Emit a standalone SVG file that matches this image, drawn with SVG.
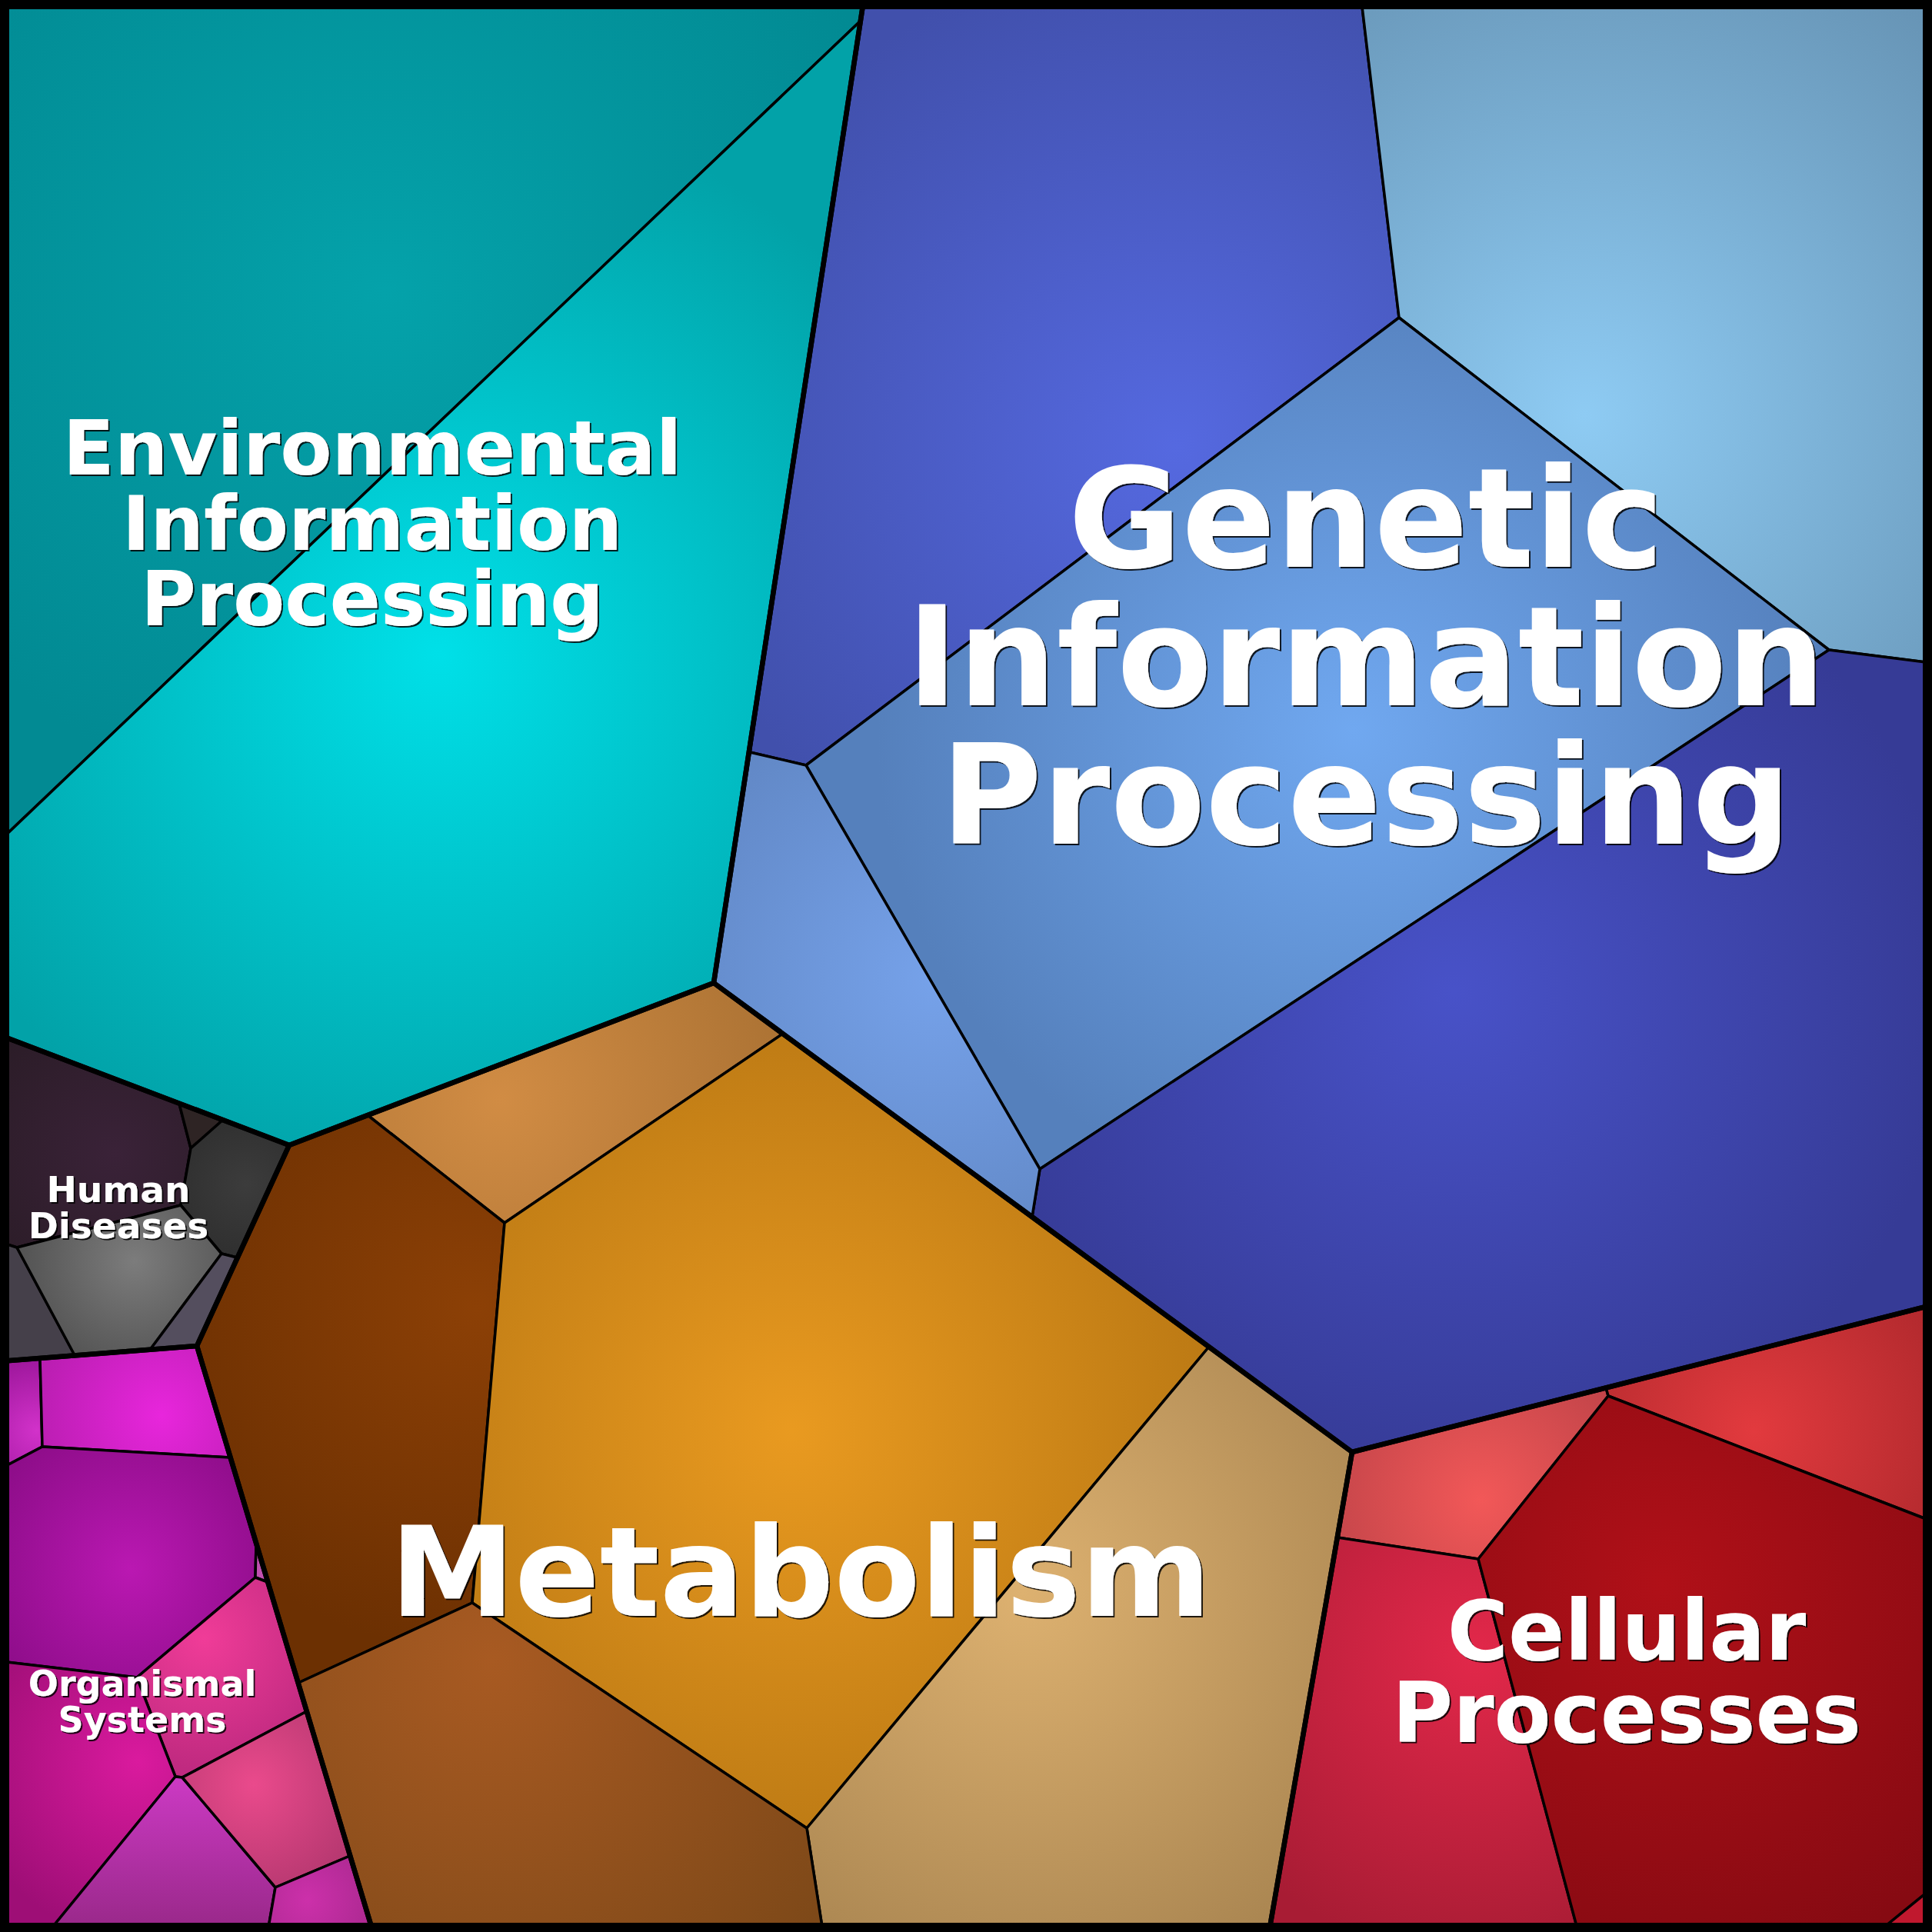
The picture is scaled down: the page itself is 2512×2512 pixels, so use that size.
<svg xmlns="http://www.w3.org/2000/svg" width="2512" height="2512" viewBox="0 0 2512 2512">
<style>
.cell{stroke:#000;stroke-width:3.5;stroke-linejoin:round}
.top{fill:none;stroke:#000;stroke-width:6.5;stroke-linejoin:round}
.lbl{font-family:"DejaVu Sans","Liberation Sans",sans-serif;font-weight:bold;fill:#fff;text-anchor:middle;filter:url(#sh)}
</style>
<defs>
<filter id="sh" x="-5%" y="-10%" width="110%" height="130%">
<feDropShadow dx="2" dy="2" stdDeviation="0.7" flood-color="#000" flood-opacity="0.85"/>
</filter>
<radialGradient id="gE1" gradientUnits="userSpaceOnUse" cx="500" cy="380" r="700"><stop offset="0" stop-color="#04a2aa"/><stop offset="1" stop-color="#028a93"/></radialGradient>
<radialGradient id="gE2" gradientUnits="userSpaceOnUse" cx="570" cy="850" r="720"><stop offset="0" stop-color="#00e0e8"/><stop offset="1" stop-color="#02a2a8"/></radialGradient>
<radialGradient id="gG1" gradientUnits="userSpaceOnUse" cx="1530" cy="580" r="650"><stop offset="0" stop-color="#5569e0"/><stop offset="1" stop-color="#4150ac"/></radialGradient>
<radialGradient id="gG2" gradientUnits="userSpaceOnUse" cx="2060" cy="540" r="700"><stop offset="0" stop-color="#8ecbf3"/><stop offset="1" stop-color="#6693b4"/></radialGradient>
<radialGradient id="gG3" gradientUnits="userSpaceOnUse" cx="1760" cy="950" r="620"><stop offset="0" stop-color="#70a8f0"/><stop offset="1" stop-color="#5580bc"/></radialGradient>
<radialGradient id="gG4" gradientUnits="userSpaceOnUse" cx="1890" cy="1290" r="650"><stop offset="0" stop-color="#4852c8"/><stop offset="1" stop-color="#363b96"/></radialGradient>
<radialGradient id="gG5" gradientUnits="userSpaceOnUse" cx="1220" cy="1270" r="420"><stop offset="0" stop-color="#76a2ea"/><stop offset="1" stop-color="#5f85c2"/></radialGradient>
<radialGradient id="gM1" gradientUnits="userSpaceOnUse" cx="650" cy="1430" r="420"><stop offset="0" stop-color="#d18c44"/><stop offset="1" stop-color="#a87032"/></radialGradient>
<radialGradient id="gM2" gradientUnits="userSpaceOnUse" cx="620" cy="1700" r="450"><stop offset="0" stop-color="#8c4006"/><stop offset="1" stop-color="#6c3002"/></radialGradient>
<radialGradient id="gM3" gradientUnits="userSpaceOnUse" cx="1030" cy="1860" r="650"><stop offset="0" stop-color="#e99a20"/><stop offset="1" stop-color="#b47412"/></radialGradient>
<radialGradient id="gM4" gradientUnits="userSpaceOnUse" cx="1330" cy="2070" r="560"><stop offset="0" stop-color="#ddb170"/><stop offset="1" stop-color="#a88450"/></radialGradient>
<radialGradient id="gM5" gradientUnits="userSpaceOnUse" cx="640" cy="2160" r="560"><stop offset="0" stop-color="#a85a22"/><stop offset="1" stop-color="#7c4818"/></radialGradient>
<radialGradient id="gC1" gradientUnits="userSpaceOnUse" cx="1925" cy="1950" r="260"><stop offset="0" stop-color="#f25858"/><stop offset="1" stop-color="#b84046"/></radialGradient>
<radialGradient id="gC2" gradientUnits="userSpaceOnUse" cx="2280" cy="1860" r="330"><stop offset="0" stop-color="#e23a3e"/><stop offset="1" stop-color="#a8262a"/></radialGradient>
<radialGradient id="gC3" gradientUnits="userSpaceOnUse" cx="1920" cy="2150" r="400"><stop offset="0" stop-color="#e2284a"/><stop offset="1" stop-color="#a81c34"/></radialGradient>
<radialGradient id="gC4" gradientUnits="userSpaceOnUse" cx="2160" cy="2060" r="520"><stop offset="0" stop-color="#b01018"/><stop offset="1" stop-color="#860a12"/></radialGradient>
<radialGradient id="gH1" gradientUnits="userSpaceOnUse" cx="150" cy="1500" r="220"><stop offset="0" stop-color="#3a2238"/><stop offset="1" stop-color="#2a1c26"/></radialGradient>
<radialGradient id="gH3" gradientUnits="userSpaceOnUse" cx="320" cy="1540" r="120"><stop offset="0" stop-color="#3c3c3c"/><stop offset="1" stop-color="#2c2c2c"/></radialGradient>
<radialGradient id="gH5" gradientUnits="userSpaceOnUse" cx="175" cy="1640" r="160"><stop offset="0" stop-color="#7c7c7c"/><stop offset="1" stop-color="#505050"/></radialGradient>
<radialGradient id="gO1" gradientUnits="userSpaceOnUse" cx="48" cy="1860" r="90"><stop offset="0" stop-color="#d232ca"/><stop offset="1" stop-color="#a0189e"/></radialGradient>
<radialGradient id="gO2" gradientUnits="userSpaceOnUse" cx="210" cy="1840" r="200"><stop offset="0" stop-color="#e826dc"/><stop offset="1" stop-color="#b01ca8"/></radialGradient>
<radialGradient id="gO3" gradientUnits="userSpaceOnUse" cx="170" cy="2040" r="220"><stop offset="0" stop-color="#ba18b2"/><stop offset="1" stop-color="#8a0c86"/></radialGradient>
<radialGradient id="gO5" gradientUnits="userSpaceOnUse" cx="265" cy="2130" r="170"><stop offset="0" stop-color="#f03c98"/><stop offset="1" stop-color="#c02a80"/></radialGradient>
<radialGradient id="gO6" gradientUnits="userSpaceOnUse" cx="180" cy="2290" r="230"><stop offset="0" stop-color="#da1a9e"/><stop offset="1" stop-color="#9e0e76"/></radialGradient>
<linearGradient id="gO7" gradientUnits="userSpaceOnUse" x1="0" y1="2310" x2="0" y2="2512"><stop offset="0" stop-color="#cc3ac4"/><stop offset="1" stop-color="#982888"/></linearGradient>
<radialGradient id="gO8" gradientUnits="userSpaceOnUse" cx="330" cy="2320" r="150"><stop offset="0" stop-color="#ea4a8c"/><stop offset="1" stop-color="#b63870"/></radialGradient>
<radialGradient id="gO9" gradientUnits="userSpaceOnUse" cx="400" cy="2470" r="100"><stop offset="0" stop-color="#cc30aa"/><stop offset="1" stop-color="#a8288e"/></radialGradient>
</defs>

<g id="environmental-information-processing">
<polygon id="env-1" class="cell" fill="url(#gE1)" points="0,0 1123,0 1119,27 0,1093"/>
<polygon id="env-2" class="cell" fill="url(#gE2)" points="1119,27 928,1278 376,1489 0,1346 0,1093"/>
</g>
<g id="genetic-information-processing">
<polygon id="gip-1" class="cell" fill="url(#gG1)" points="1123,0 1770,0 1819,413 1048,995 975,978"/>
<polygon id="gip-2" class="cell" fill="url(#gG2)" points="1770,0 2512,0 2512,862 2378,845 1819,413"/>
<polygon id="gip-3" class="cell" fill="url(#gG3)" points="1819,413 2378,845 1352,1520 1048,995"/>
<polygon id="gip-4" class="cell" fill="url(#gG4)" points="2378,845 2512,862 2512,1697 1758,1888 1342,1582 1352,1520"/>
<polygon id="gip-5" class="cell" fill="url(#gG5)" points="975,978 1048,995 1352,1520 1342,1582 928,1278"/>
</g>
<g id="metabolism">
<polygon id="met-1" class="cell" fill="url(#gM1)" points="478,1450 928,1278 1018,1344 656,1590"/>
<polygon id="met-2" class="cell" fill="url(#gM2)" points="376,1489 478,1450 656,1590 614,2084 388,2188 256,1750"/>
<polygon id="met-3" class="cell" fill="url(#gM3)" points="656,1590 1018,1344 1572,1751 1049,2377 614,2084"/>
<polygon id="met-4" class="cell" fill="url(#gM4)" points="1572,1751 1758,1888 1650,2512 1070,2512 1049,2377"/>
<polygon id="met-5" class="cell" fill="url(#gM5)" points="388,2188 614,2084 1049,2377 1070,2512 485,2512"/>
</g>
<g id="cellular-processes">
<polygon id="cel-1" class="cell" fill="url(#gC1)" points="1758,1888 2088,1804 2091,1815 1922,2027 1739,1999"/>
<polygon id="cel-2" class="cell" fill="url(#gC2)" points="2088,1804 2512,1697 2512,1978 2091,1815"/>
<polygon id="cel-3" class="cell" fill="url(#gC3)" points="1739,1999 1922,2027 2052,2512 1650,2512"/>
<polygon id="cel-4" class="cell" fill="url(#gC4)" points="2091,1815 2512,1978 2512,2455 2442,2512 2052,2512 1922,2027"/>
<polygon id="cel-5" class="cell" fill="#c0182e" points="2442,2512 2512,2455 2512,2512"/>
</g>
<g id="human-diseases">
<polygon id="hd-1" class="cell" fill="url(#gH1)" points="0,1346 233,1435 248,1493 235,1567 22,1622 0,1615"/>
<polygon id="hd-2" class="cell" fill="#2e2424" points="233,1435 290,1456 248,1493"/>
<polygon id="hd-3" class="cell" fill="url(#gH3)" points="290,1456 376,1489 308,1635 288,1630 235,1567 248,1493"/>
<polygon id="hd-4" class="cell" fill="#45404a" points="0,1615 22,1622 97,1762 0,1770"/>
<polygon id="hd-5" class="cell" fill="url(#gH5)" points="22,1622 235,1567 288,1630 195,1755 97,1762"/>
<polygon id="hd-6" class="cell" fill="#544e5e" points="288,1630 308,1635 256,1750 195,1755"/>
</g>
<g id="organismal-systems">
<polygon id="org-1" class="cell" fill="url(#gO1)" points="0,1770 52,1766 55,1881 0,1910"/>
<polygon id="org-2" class="cell" fill="url(#gO2)" points="52,1766 256,1750 299,1895 55,1881"/>
<polygon id="org-3" class="cell" fill="url(#gO3)" points="0,1910 55,1881 299,1895 333,2008 332,2051 178,2181 0,2160"/>
<polygon id="org-4" class="cell" fill="#c050b0" points="333,2008 348,2057 332,2051"/>
<polygon id="org-5" class="cell" fill="url(#gO5)" points="332,2051 348,2057 399,2225 237,2311 228,2310 178,2181"/>
<polygon id="org-6" class="cell" fill="url(#gO6)" points="0,2160 178,2181 228,2310 63,2512 0,2512"/>
<polygon id="org-7" class="cell" fill="url(#gO7)" points="228,2310 237,2311 358,2454 348,2512 63,2512"/>
<polygon id="org-8" class="cell" fill="url(#gO8)" points="237,2311 399,2225 455,2413 358,2454"/>
<polygon id="org-9" class="cell" fill="url(#gO9)" points="358,2454 455,2413 485,2512 348,2512"/>
</g>

<g id="connectors">
<polygon class="top" points="0,0 1123,0 928,1278 376,1489 0,1346"/>
<polygon class="top" points="1123,0 2512,0 2512,1697 1758,1888 928,1278"/>
<polygon class="top" points="376,1489 928,1278 1758,1888 1650,2512 485,2512 256,1750"/>
<polygon class="top" points="1758,1888 2512,1697 2512,2512 1650,2512"/>
<polygon class="top" points="0,1346 376,1489 256,1750 0,1770"/>
<polygon class="top" points="0,1770 256,1750 485,2512 0,2512"/>
<rect x="6" y="6" width="2500" height="2500" fill="none" stroke="#000" stroke-width="12"/>
</g>

<g id="labels">
<text class="lbl" x="484" font-size="98"><tspan x="484" y="617">Environmental</tspan><tspan x="484" y="715">Information</tspan><tspan x="484" y="813">Processing</tspan></text>
<text class="lbl" x="1776" font-size="180"><tspan x="1776" y="737">Genetic</tspan><tspan x="1776" y="917">Information</tspan><tspan x="1776" y="1097">Processing</tspan></text>
<text class="lbl" x="1041" y="2101" font-size="163">Metabolism</text>
<text class="lbl" x="2115" font-size="108"><tspan x="2115" y="2158">Cellular</tspan><tspan x="2115" y="2265">Processes</tspan></text>
<text class="lbl" x="154" font-size="47"><tspan x="154" y="1563">Human</tspan><tspan x="154" y="1610">Diseases</tspan></text>
<text class="lbl" x="185" font-size="46"><tspan x="185" y="2205">Organismal</tspan><tspan x="185" y="2252">Systems</tspan></text>
</g>
</svg>
